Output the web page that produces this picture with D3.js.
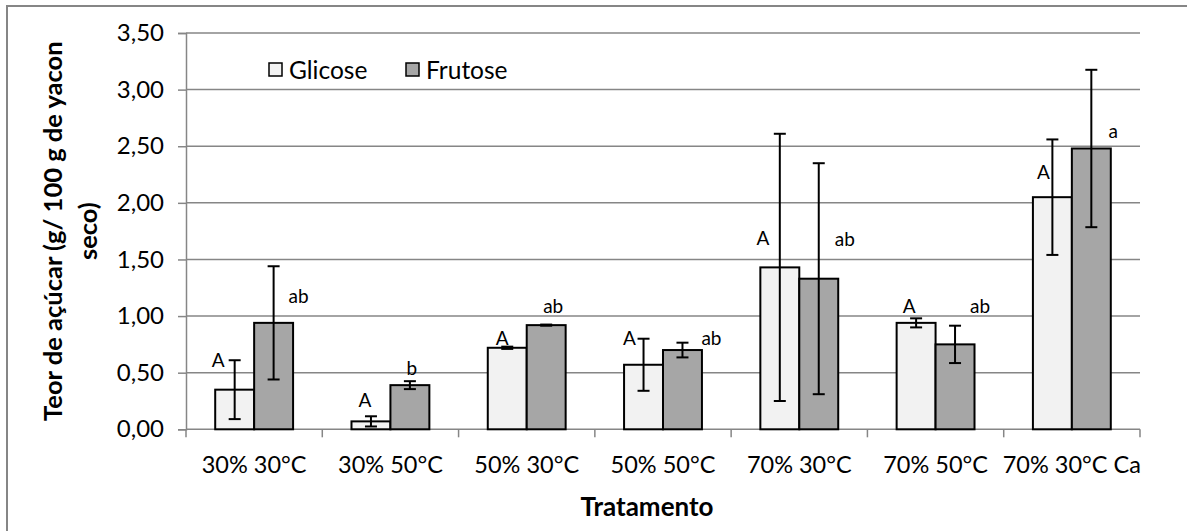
<!DOCTYPE html>
<html>
<head>
<meta charset="utf-8">
<script src="https://cdn.jsdelivr.net/npm/d3@7"></script>
<style>
  html, body { margin: 0; padding: 0; background: #fff; }
  svg { display: block; font-family: Lato, "Open Sans", "Noto Sans", sans-serif; }
</style>
</head>
<body>
<svg id="chart" width="1187" height="531"></svg>
<script>
// Treatments (x categories)
const categories = ["30% 30°C", "30% 50°C", "50% 30°C", "50% 50°C", "70% 30°C", "70% 50°C", "70% 30°C Ca"];
const seriesNames = ["Glicose", "Frutose"];

// Sugar content (g / 100 g dry yacon) and standard deviations
const glicose    = [0.35, 0.07, 0.72, 0.57, 1.43, 0.94, 2.05];
const glicoseErr = [0.26, 0.045, 0.01, 0.23, 1.18, 0.04, 0.51];
const frutose    = [0.94, 0.39, 0.92, 0.70, 1.33, 0.75, 2.48];
const frutoseErr = [0.50, 0.035, 0.005, 0.065, 1.02, 0.165, 0.695];

// Significance letters
const glicoseLetters = ["A", "A", "A", "A", "A", "A", "A"];
const frutoseLetters = ["ab", "b", "ab", "ab", "ab", "ab", "a"];

// Axis ticks
const yTicks = [0, 0.5, 1, 1.5, 2, 2.5, 3, 3.5];

// Letter placement: height in axis units and horizontal offset from the bar centre (px)
const glicoseLetterY  = [0.612, 0.26, 0.807, 0.807, 1.69, 1.09, 2.273];
const glicoseLetterDx = [-16.5, -6, -5, -14, -17, -7, -9];
const frutoseLetterY  = [1.178, 0.54, 1.09, 0.807, 1.68, 1.09, 2.627];
const frutoseLetterDx = [25, 2, 7, 29, 26, 25, 22];

const colors = { Glicose: "#f2f2f2", Frutose: "#a6a6a6" };
const gridColor = "#868686";

const svg = d3.select("#chart");
const plot = { left: 186, right: 1140, top: 33, bottom: 429.3 };

const locale = d3.formatLocale({ decimal: ",", thousands: ".", grouping: [3], currency: ["", ""] });
const fmt = locale.format(".2f");

const x0 = d3.scaleBand().domain(categories).range([plot.left, plot.right]).padding(0);
const x1 = d3.scaleBand().domain(seriesNames).range([0, x0.bandwidth()]).paddingInner(0).paddingOuter(0.75);
const y = d3.scaleLinear().domain([0, 3.5]).range([plot.bottom, plot.top]);

// Chart-area border
svg.append("rect")
  .attr("x", 7).attr("y", 6).attr("width", 1200).attr("height", 540)
  .attr("fill", "none").attr("stroke", gridColor).attr("stroke-width", 2);

// Horizontal gridlines
svg.append("g").selectAll("line").data(yTicks.filter(d => d > 0)).join("line")
  .attr("x1", plot.left).attr("x2", plot.right)
  .attr("y1", d => y(d)).attr("y2", d => y(d))
  .attr("stroke", gridColor).attr("stroke-width", 1.5);

// Y axis
const yAxis = svg.append("g")
  .attr("transform", `translate(${plot.left},0)`)
  .call(d3.axisLeft(y).tickValues(yTicks).tickFormat(fmt).tickSize(8).tickPadding(14));
yAxis.select(".domain").attr("stroke", gridColor).attr("stroke-width", 1.5);
yAxis.selectAll(".tick line").attr("stroke", gridColor).attr("stroke-width", 1.5);
yAxis.selectAll(".tick text")
  .attr("font-family", "Lato, sans-serif").attr("font-size", 24).attr("fill", "#000");

// X axis: line with ticks on category boundaries
const xAxis = svg.append("g");
xAxis.append("line")
  .attr("x1", plot.left).attr("x2", plot.right)
  .attr("y1", plot.bottom).attr("y2", plot.bottom)
  .attr("stroke", gridColor).attr("stroke-width", 1.5);
const boundaries = categories.map(c => x0(c)).concat([plot.right]);
xAxis.selectAll("line.tk").data(boundaries).join("line").attr("class", "tk")
  .attr("x1", d => d).attr("x2", d => d)
  .attr("y1", plot.bottom).attr("y2", plot.bottom + 8)
  .attr("stroke", gridColor).attr("stroke-width", 1.5);
xAxis.selectAll("text").data(categories).join("text")
  .attr("x", d => x0(d) + x0.bandwidth() / 2)
  .attr("y", 473)
  .attr("text-anchor", "middle")
  .attr("font-size", 23.5).attr("fill", "#000")
  .text(d => d);

// Bars, error bars and letters
const seriesData = [
  { name: "Glicose", values: glicose, errs: glicoseErr, letters: glicoseLetters, ly: glicoseLetterY, ldx: glicoseLetterDx },
  { name: "Frutose", values: frutose, errs: frutoseErr, letters: frutoseLetters, ly: frutoseLetterY, ldx: frutoseLetterDx }
];

seriesData.forEach(s => {
  const rows = categories.map((c, i) => ({ c, v: s.values[i], e: s.errs[i], l: s.letters[i], ly: s.ly[i], ldx: s.ldx[i] }));
  const g = svg.append("g");
  g.selectAll("rect").data(rows).join("rect")
    .attr("x", d => x0(d.c) + x1(s.name))
    .attr("y", d => y(d.v))
    .attr("width", x1.bandwidth())
    .attr("height", d => y(0) - y(d.v))
    .attr("fill", colors[s.name])
    .attr("stroke", "#000").attr("stroke-width", 2);

  const cx = d => x0(d.c) + x1(s.name) + x1.bandwidth() / 2;
  const cap = 6;
  const eb = g.selectAll("g.err").data(rows).join("g").attr("class", "err")
    .attr("stroke", "#000").attr("stroke-width", 2);
  eb.append("line")
    .attr("x1", cx).attr("x2", cx)
    .attr("y1", d => y(d.v + d.e)).attr("y2", d => y(Math.max(0, d.v - d.e)));
  eb.append("line")
    .attr("x1", d => cx(d) - cap).attr("x2", d => cx(d) + cap)
    .attr("y1", d => y(d.v + d.e)).attr("y2", d => y(d.v + d.e));
  eb.append("line")
    .attr("x1", d => cx(d) - cap).attr("x2", d => cx(d) + cap)
    .attr("y1", d => y(Math.max(0, d.v - d.e))).attr("y2", d => y(Math.max(0, d.v - d.e)));

  g.selectAll("text").data(rows).join("text")
    .attr("x", d => cx(d) + d.ldx)
    .attr("y", d => y(d.ly))
    .attr("dy", "0.35em")
    .attr("text-anchor", "middle")
    .attr("font-size", 19).attr("fill", "#000")
    .text(d => d.l);
});

// Legend
const legend = svg.append("g");
const legendItems = [
  { name: "Glicose", x: 269 },
  { name: "Frutose", x: 406 }
];
legendItems.forEach(it => {
  legend.append("rect")
    .attr("x", it.x).attr("y", 63).attr("width", 13).attr("height", 13)
    .attr("fill", colors[it.name]).attr("stroke", "#000").attr("stroke-width", 1.5);
  legend.append("text")
    .attr("x", it.x + 20).attr("y", 70).attr("dy", "0.35em")
    .attr("font-size", 24.5).attr("fill", "#000")
    .text(it.name);
});

// Axis titles
svg.append("text")
  .attr("x", 647).attr("y", 516)
  .attr("text-anchor", "middle")
  .attr("font-size", 26).attr("font-weight", "bold").attr("fill", "#000")
  .text("Tratamento");

const yTitle = svg.append("text")
  .attr("transform", `translate(0,${(plot.top + plot.bottom) / 2}) rotate(-90)`)
  .attr("text-anchor", "middle")
  .attr("font-size", 25.5).attr("font-weight", "bold").attr("fill", "#000");
yTitle.append("tspan").attr("x", 0).attr("y", 62).text("Teor de açúcar (g/ 100 g de yacon");
yTitle.append("tspan").attr("x", 0).attr("y", 97).text("seco)");
</script>
</body>
</html>
